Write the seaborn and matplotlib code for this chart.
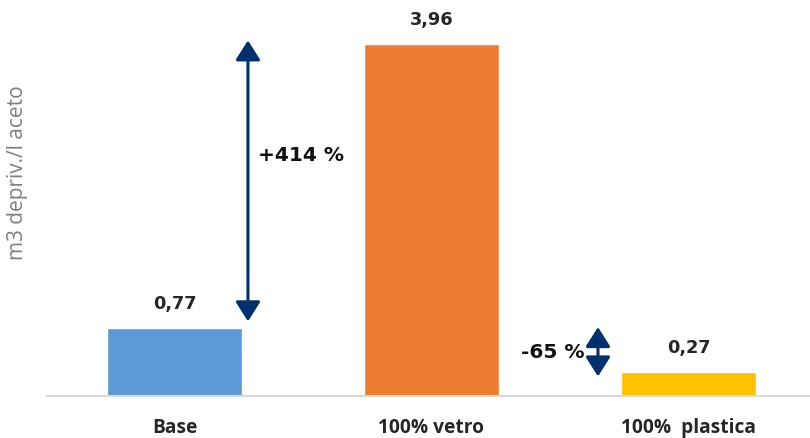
import matplotlib
matplotlib.use("Agg")
import matplotlib.pyplot as plt
import seaborn as sns
import pandas as pd

# Data
categories = ["Base", "100% vetro", "100%  plastica"]
values = [0.77, 3.96, 0.27]
value_labels = ["0,77", "3,96", "0,27"]
bar_colors = ["#5B9BD5", "#ED7D31", "#FFC000"]
change_labels = ["+414 %", "-65 %"]

df = pd.DataFrame({"scenario": categories, "value": values})

sns.set_theme(style="white")
plt.rcParams["font.family"] = ["DejaVu Sans"]

fig = plt.figure(figsize=(8.10, 4.39), dpi=100)
ax = fig.add_axes([47 / 810, 42 / 439, 763 / 810, 397 / 439])

sns.barplot(data=df, x="scenario", y="value", hue="scenario",
            palette=bar_colors, width=0.525, legend=False, ax=ax,
            saturation=1)

ax.set_xlim(-0.496, 2.473)
ax.set_ylim(0, 4.466)

for s in ["top", "right", "left"]:
    ax.spines[s].set_visible(False)
ax.spines["bottom"].set_color("#D9D9D9")
ax.spines["bottom"].set_linewidth(1.5)
ax.set_yticks([])
ax.tick_params(axis="x", length=0, pad=15)
ax.set_xlabel("")
ax.set_xticks(range(len(categories)))
ax.set_xticklabels(categories, family="Open Sans", fontweight="bold",
                   fontsize=13.8, color="#262626")

ax.set_ylabel("m3 depriv./l aceto", family="Open Sans", fontsize=15,
              color="#7F7F7F")
ax.yaxis.set_label_coords(-0.025, 0.564)

# value labels above bars
for i, (v, lab) in enumerate(zip(values, value_labels)):
    ax.annotate(lab, (i, v), xytext=(0, 18), textcoords="offset points",
                ha="center", va="center", fontsize=12.8, fontweight="bold",
                color="#262626")

arrow_color = "#00306E"
arrow_style = dict(arrowstyle="<|-|>,head_length=0.6,head_width=0.38",
                   color=arrow_color, lw=2.2,
                   mutation_scale=20, shrinkA=0, shrinkB=0)

# increase: base -> vetro
ax.annotate("", xy=(0.286, values[1] + 0.04), xytext=(0.286, values[0] + 0.07),
            arrowprops=arrow_style)
ax.text(0.325, 2.72, change_labels[0], ha="left", va="center",
        fontsize=14.5, fontweight="bold", color="#111111")

# decrease: base -> plastica
ax.annotate("", xy=(1.648, values[0] + 0.005), xytext=(1.648, values[2] - 0.05),
            arrowprops=arrow_style)
ax.text(1.597, 0.506, change_labels[1], ha="right", va="center",
        fontsize=14.5, fontweight="bold", color="#111111")

fig.savefig("out.png", dpi=100)
